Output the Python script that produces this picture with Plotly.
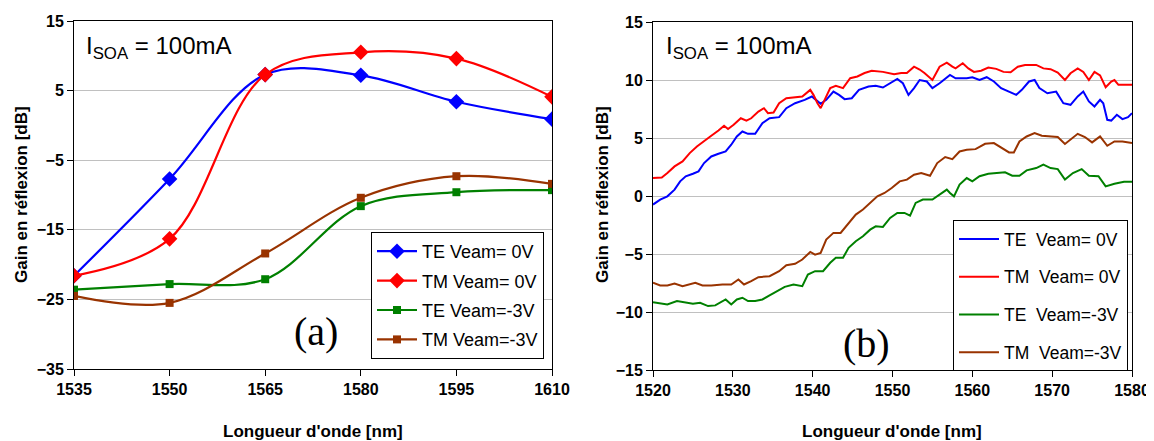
import plotly.graph_objects as go

# the page body has an 8 px margin, so the figure is drawn 8 px in from the window corner
OFF = 8
W, H = 1154 - OFF, 441 - OFF

# ---------------- Panel (a) data ----------------
wl_a = [1535, 1550, 1565, 1580, 1595, 1610]
te_0v_a = [-21.6, -7.7, 7.3, 7.2, 3.4, 0.9]
tm_0v_a = [-21.6, -16.3, 7.3, 10.5, 9.6, 4.1]
te_3v_a = [-23.6, -22.8, -22.1, -11.6, -9.6, -9.3]
tm_3v_a = [-24.5, -25.5, -18.4, -10.4, -7.3, -8.4]

# ---------------- Panel (b) data ----------------
te_0v_x = [1520, 1520.9, 1521.8, 1522.7, 1523.4, 1524.1, 1525, 1525.7, 1526.4, 1527.3, 1528.2, 1529.1,
           1529.8, 1530.5, 1531.2, 1531.9, 1532.8, 1533.7, 1534.6, 1535.8, 1536.7, 1537.8, 1539, 1539.9,
           1540.3, 1541, 1541.7, 1542.6, 1543.3, 1544, 1544.9, 1545.8, 1547, 1547.9, 1548.8, 1549.7,
           1550.6, 1551.3, 1552, 1552.7, 1553.4, 1554.3, 1555, 1555.9, 1556.6, 1557.2, 1557.9, 1559.3,
           1560, 1560.9, 1561.8, 1562.7, 1563.6, 1564.6, 1565.5, 1566.2, 1567.1, 1567.8, 1568.4, 1569.4,
           1570.5, 1571.4, 1572.3, 1573.2, 1573.9, 1574.6, 1575.3, 1576, 1576.4, 1576.9, 1577.4, 1578.1,
           1578.8, 1579.5, 1580]
te_0v_y = [-0.74, -0.31, -0.03, 0.55, 1.26, 1.7, 1.92, 2.12, 2.84, 3.41, 3.64, 3.84,
           4.42, 5.13, 5.56, 5.36, 5.36, 6.28, 6.71, 6.8, 7.57, 8.0, 8.29, 8.58,
           8.35, 7.95, 8.29, 9.0, 8.72, 8.35, 8.43, 9.15, 9.44, 9.5, 9.35, 9.72,
           10.1, 9.72, 8.72, 9.3, 10.0, 9.87, 9.3, 9.72, 10.15, 10.44, 10.15, 10.15,
           10.24, 10.0, 10.24, 9.87, 9.3, 9.0, 8.72, 9.15, 9.87, 10.0, 9.3, 8.86,
           9.0, 8.0, 7.86, 8.58, 9.0, 8.15, 7.72, 8.29, 8.0, 6.57, 6.5, 7.0,
           6.63, 6.8, 7.14]

tm_0v_x = [1520, 1521.1, 1521.8, 1522.7, 1523.7, 1524.6, 1525.5, 1526.4, 1527.3, 1528.2, 1528.9, 1529.4,
           1530.1, 1531, 1531.7, 1532.3, 1533.2, 1533.9, 1534.4, 1535.1, 1535.8, 1536.7, 1537.8, 1538.7,
           1539.7, 1540.1, 1540.6, 1541, 1541.5, 1542.2, 1542.9, 1543.8, 1544.7, 1545.6, 1546.5, 1547.4,
           1548.8, 1550.2, 1551.1, 1551.8, 1552.7, 1553.4, 1554, 1555, 1555.9, 1556.8, 1557.5, 1557.9,
           1558.8, 1559.5, 1560.2, 1561.1, 1562, 1563, 1563.9, 1564.8, 1565.7, 1566.6, 1568, 1568.9,
           1569.8, 1570.7, 1571.6, 1572.3, 1573.2, 1573.9, 1574.6, 1575.3, 1576, 1576.7, 1577.4, 1577.8,
           1578.3, 1579, 1580]
tm_0v_y = [1.55, 1.6, 1.98, 2.55, 2.98, 3.7, 4.27, 4.7, 5.19, 5.65, 6.05, 5.77,
           6.14, 6.7, 6.5, 6.7, 7.28, 7.57, 7.14, 7.2, 8.0, 8.43, 8.49, 8.58,
           9.15, 8.72, 8.0, 7.57, 8.29, 9.3, 9.5, 9.3, 10.15, 10.3, 10.6, 10.8,
           10.7, 10.5, 10.6, 10.6, 11.15, 10.9, 10.6, 10.0, 11.15, 11.5, 11.15, 11.0,
           11.44, 11.0, 10.7, 10.8, 11.07, 10.96, 10.7, 10.67, 11.15, 11.3, 11.3, 11.0,
           10.93, 10.64, 10.0, 10.58, 11.0, 10.7, 10.0, 10.7, 10.4, 9.38, 9.87, 10.0,
           9.58, 9.58, 9.58]

te_3v_x = [1520, 1520.9, 1521.8, 1523, 1523.9, 1525, 1525.9, 1526.9, 1527.8, 1528.7, 1529.1, 1529.8,
           1530.5, 1531.2, 1531.9, 1532.8, 1533.7, 1534.6, 1535.5, 1536.5, 1537.6, 1538.7, 1539.4, 1540.3,
           1541.3, 1542.2, 1542.9, 1543.8, 1544.5, 1545.4, 1546.3, 1547.2, 1547.9, 1548.8, 1549.7, 1550.6,
           1551.5, 1552.2, 1552.9, 1553.8, 1555, 1555.9, 1556.8, 1557.2, 1557.7, 1558.4, 1559.3, 1560,
           1560.9, 1562, 1563.2, 1564.1, 1565, 1565.9, 1566.8, 1568, 1568.9, 1569.8, 1570.7, 1571.6,
           1572.6, 1573.7, 1574.6, 1575.8, 1576.7, 1577.8, 1579, 1580]
te_3v_y = [-9.15, -9.26, -9.35, -9.06, -9.15, -9.29, -9.2, -9.49, -9.43, -9.06, -8.92, -9.35,
           -8.92, -8.77, -9.06, -9.06, -8.92, -8.57, -8.2, -7.83, -7.63, -7.77, -6.77, -6.48,
           -6.48, -5.76, -5.33, -5.33, -4.47, -3.9, -3.47, -2.9, -2.61, -2.67, -1.89, -1.46,
           -1.46, -1.69, -0.6, -0.31, -0.31, 0.12, 0.55, 0.26, -0.03, 0.98, 1.55, 1.26,
           1.7, 1.92, 1.98, 2.04, 1.75, 1.75, 2.21, 2.41, 2.7, 2.41, 2.32, 1.41,
           1.98, 2.32, 1.75, 1.7, 0.83, 1.06, 1.23, 1.23]

tm_3v_x = [1520, 1520.9, 1521.8, 1522.7, 1523.7, 1524.6, 1525.3, 1526.2, 1527.3, 1528.7, 1529.8, 1530.7,
           1531.4, 1532.3, 1533.2, 1534.6, 1535.8, 1536.7, 1537.8, 1538.7, 1539.7, 1540.3, 1541, 1541.7,
           1542.6, 1543.5, 1544.5, 1545.4, 1546.3, 1547.2, 1548.1, 1549, 1549.9, 1550.9, 1551.8, 1552.7,
           1553.6, 1554.7, 1555.6, 1556.6, 1557.5, 1558.4, 1559.3, 1560.4, 1561.6, 1562.7, 1563.6, 1564.6,
           1565.2, 1565.9, 1566.8, 1567.8, 1568.7, 1569.8, 1570.7, 1571.6, 1572.3, 1573.2, 1574.1, 1575,
           1576, 1576.9, 1577.8, 1578.8, 1580]
tm_3v_y = [-7.48, -7.71, -7.71, -7.54, -7.77, -7.63, -7.48, -7.71, -7.71, -7.63, -7.63, -7.2,
           -7.63, -7.34, -7.0, -6.91, -6.48, -5.96, -5.85, -5.48, -4.82, -5.05, -4.9, -3.76,
           -3.18, -3.18, -2.32, -1.6, -1.17, -0.6, -0.03, 0.26, 0.69, 1.26, 1.41, 1.84,
           1.98, 1.75, 2.84, 3.36, 3.18, 3.84, 3.99, 4.04, 4.5, 4.56, 4.19, 3.76,
           3.76, 4.7, 5.13, 5.42, 5.19, 5.13, 5.08, 4.48, 4.85, 5.36, 5.08, 4.62,
           5.13, 4.33, 4.7, 4.7, 4.56]

names_a = ["TE Veam= 0V", "TM Veam= 0V", "TE Veam=-3V", "TM Veam=-3V"]
names_b = ["TE\u00a0 Veam= 0V", "TM\u00a0 Veam= 0V", "TE\u00a0 Veam=-3V", "TM\u00a0 Veam=-3V"]
colors = ["#0000FF", "#FF0000", "#008000", "#993300"]
symbols = ["diamond", "diamond", "square", "square"]
msizes = [12, 12, 8, 8]

FONT = "Arial, Liberation Sans, sans-serif"

fig = go.Figure()

for i, ys in enumerate([te_0v_a, tm_0v_a, te_3v_a, tm_3v_a]):
    fig.add_trace(go.Scatter(
        x=wl_a, y=ys, name=names_a[i], mode="lines+markers",
        line=dict(color=colors[i], width=2.2, shape="spline", smoothing=1),
        marker=dict(symbol=symbols[i], size=msizes[i], color=colors[i]),
        xaxis="x", yaxis="y", legend="legend", legendgroup=f"a{i}"))

for i, (xs, ys) in enumerate([(te_0v_x, te_0v_y), (tm_0v_x, tm_0v_y),
                              (te_3v_x, te_3v_y), (tm_3v_x, tm_3v_y)]):
    fig.add_trace(go.Scatter(
        x=xs, y=ys, name=names_b[i], mode="lines",
        line=dict(color=colors[i], width=2),
        xaxis="x2", yaxis="y2", legend="legend2", legendgroup=f"b{i}"))

def px(x):
    # window pixel -> paper fraction
    return (x - OFF) / W

def py(y):
    return 1 - (y - OFF) / H

axis_common = dict(
    showline=True, mirror=True, linecolor="#000000", linewidth=1,
    ticks="outside", tickcolor="#000000", ticklen=6,
    tickfont=dict(family=FONT, size=16, color="#000000", weight="bold"),
    zeroline=False, automargin=False,
)

fig.update_layout(
    template="none",
    width=W, height=H,
    margin=dict(l=0, r=0, t=0, b=0, autoexpand=False),
    paper_bgcolor="white", plot_bgcolor="white",
    font=dict(family=FONT, color="#000000"),
    xaxis=dict(domain=[px(74), px(552)], range=[1535, 1610], tickvals=wl_a,
               showgrid=False, anchor="y", **axis_common),
    yaxis=dict(domain=[py(369), py(21)], range=[-35, 15], dtick=10, tick0=15,
               showgrid=True, gridcolor="#C0C0C0", gridwidth=1, anchor="x", **axis_common),
    xaxis2=dict(domain=[px(653), px(1132)], range=[1520, 1580], dtick=10,
                showgrid=False, anchor="y2", **axis_common),
    yaxis2=dict(domain=[py(370), py(22)], range=[-15, 15], dtick=5,
                showgrid=True, gridcolor="#C0C0C0", gridwidth=1, anchor="x2", **axis_common),
    legend=dict(x=px(371), y=py(232), xanchor="left", yanchor="top",
                bgcolor="white", bordercolor="#000000", borderwidth=1,
                font=dict(family=FONT, size=18, color="#000000"),
                tracegroupgap=3, itemwidth=40),
    legend2=dict(x=px(953), y=py(220), xanchor="left", yanchor="top",
                 bgcolor="white", bordercolor="#000000", borderwidth=1,
                 font=dict(family=FONT, size=17.5, color="#000000"),
                 tracegroupgap=12, itemwidth=40),
    showlegend=True,
)

TITLE_FONT = dict(family=FONT, size=17, weight="bold", color="#000000")
SERIF = dict(family="Times New Roman, Liberation Serif, serif", size=40, color="#000000")

annots = [
    dict(text="Longueur d'onde [nm]", x=px(313), y=py(431), font=TITLE_FONT),
    dict(text="Longueur d'onde [nm]", x=px(892), y=py(431), font=TITLE_FONT),
    dict(text="Gain en réflexion [dB]", x=px(21), y=py(195), textangle=-90, font=TITLE_FONT),
    dict(text="Gain en réflexion [dB]", x=px(602), y=py(195), textangle=-90, font=TITLE_FONT),
    dict(text="(a)", x=px(316), y=py(331), font=SERIF),
    dict(text="(b)", x=px(867), y=py(343), font=SERIF),
]
for a in annots:
    a.update(xref="paper", yref="paper", showarrow=False, xanchor="center", yanchor="middle")

for xl in (84, 664):
    annots.append(dict(text="I<sub>SOA</sub> = 100mA", x=px(xl), y=py(30), xref="paper", yref="paper",
                       xanchor="left", yanchor="top", showarrow=False,
                       font=dict(family=FONT, size=24, color="#000000")))

fig.update_layout(annotations=annots)

fig.write_html("out.html")
